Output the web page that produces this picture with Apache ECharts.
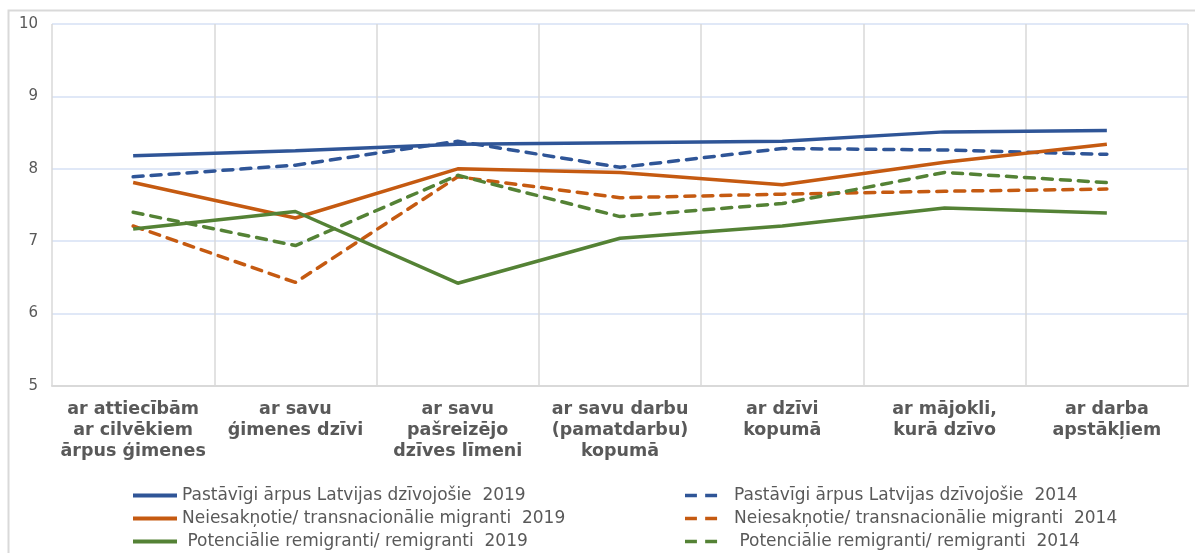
<!DOCTYPE html>
<html>
<head>
<meta charset="utf-8">
<script src="https://cdn.jsdelivr.net/npm/echarts@6/dist/echarts.min.js"></script>
<style>
html,body{margin:0;padding:0;background:#fff;}
#chart{width:1195px;height:553px;}
</style>
</head>
<body>
<div id="chart"></div>
<script>
const categories = [
  "ar attiecībām\nar cilvēkiem\nārpus ģimenes",
  "ar savu\nģimenes dzīvi",
  "ar savu\npašreizējo\ndzīves līmeni",
  "ar savu darbu\n(pamatdarbu)\nkopumā",
  "ar dzīvi\nkopumā",
  "ar mājokli,\nkurā dzīvo",
  "ar darba\napstākļiem"
];
const yTicks = { min: 5, max: 10, interval: 1 };

const namePastavigi2019 = "Pastāvīgi ārpus Latvijas dzīvojošie  2019";
const nameNeiesakn2019 = "Neiesakņotie/ transnacionālie migranti  2019";
const namePotenc2019 = " Potenciālie remigranti/ remigranti  2019";
const namePastavigi2014 = "Pastāvīgi ārpus Latvijas dzīvojošie  2014";
const nameNeiesakn2014 = "Neiesakņotie/ transnacionālie migranti  2014";
const namePotenc2014 = " Potenciālie remigranti/ remigranti  2014";

const pastavigi2019 = [8.18, 8.25, 8.34, 8.36, 8.38, 8.51, 8.53];
const neiesakn2019 = [7.81, 7.32, 8.00, 7.95, 7.78, 8.09, 8.34];
const potenc2019 = [7.17, 7.41, 6.42, 7.04, 7.21, 7.46, 7.39];
const pastavigi2014 = [7.89, 8.05, 8.38, 8.02, 8.28, 8.26, 8.20];
const neiesakn2014 = [7.21, 6.43, 7.89, 7.60, 7.65, 7.69, 7.72];
const potenc2014 = [7.40, 6.94, 7.91, 7.34, 7.52, 7.95, 7.81];

const BLUE = '#2F5597', ORANGE = '#C55A11', GREEN = '#548235';
const FONT = 'DejaVu Sans';
const DASH_ICON = 'path://M0,0h13v4h-13z M22,0h13v4h-13z M48,0h0.01v0.01h-0.01z';

function mk(name, data, color, dashed) {
  return {
    name: name, type: 'line', data: data, symbol: 'none', smooth: false,
    lineStyle: { color: color, width: 3.5, type: dashed ? [10, 8] : 'solid', cap: dashed ? 'round' : 'butt' },
    itemStyle: { color: color },
    emphasis: { disabled: true },
    animation: false
  };
}

const chart = echarts.init(document.getElementById('chart'), null, { renderer: 'canvas' });
const legendText = { color: '#595959', fontSize: 17, fontFamily: FONT, lineHeight: 17 };
chart.setOption({
  animation: false,
  backgroundColor: '#fff',
  graphic: [{
    type: 'rect', shape: { x: 8.5, y: 10.5, width: 1220, height: 600 },
    style: { fill: 'none', stroke: '#D9D9D9', lineWidth: 2 }, silent: true, z: -1
  }],
  grid: { left: 52, right: 7, top: 24, bottom: 167, containLabel: false },
  legend: [
    {
      data: [namePastavigi2019, nameNeiesakn2019, namePotenc2019].map(n => ({ name: n, icon: 'rect' })),
      orient: 'vertical', left: 133, top: 487, padding: 0, height: 80,
      itemWidth: 44, itemHeight: 4, itemGap: 6,
      textStyle: legendText, selectedMode: false
    },
    {
      data: [namePastavigi2014, nameNeiesakn2014, namePotenc2014].map(n => ({ name: n, icon: DASH_ICON })),
      orient: 'vertical', left: 685, top: 487, padding: 0, height: 80,
      itemWidth: 44, itemHeight: 4, itemGap: 6,
      textStyle: legendText, selectedMode: false
    }
  ],
  xAxis: {
    type: 'category', data: categories, boundaryGap: true,
    axisLine: { show: true, lineStyle: { color: '#D9D9D9', width: 2 } },
    axisTick: { show: false },
    splitLine: { show: true, lineStyle: { color: '#D9D9D9', width: 1.5 } },
    axisLabel: {
      interval: 0, margin: 13, color: '#595959', fontSize: 17.5, fontWeight: 'bold',
      fontFamily: FONT, lineHeight: 21, align: 'center'
    }
  },
  yAxis: {
    type: 'value', min: yTicks.min, max: yTicks.max, interval: yTicks.interval,
    axisLine: { show: false }, axisTick: { show: false },
    splitLine: { show: true, lineStyle: { color: '#D6E0F4', width: 1.5 } },
    axisLabel: { color: '#595959', fontSize: 15, fontFamily: FONT, margin: 14 }
  },
  series: [
    mk(namePastavigi2019, pastavigi2019, BLUE, false),
    mk(namePastavigi2014, pastavigi2014, BLUE, true),
    mk(nameNeiesakn2019, neiesakn2019, ORANGE, false),
    mk(nameNeiesakn2014, neiesakn2014, ORANGE, true),
    mk(namePotenc2019, potenc2019, GREEN, false),
    mk(namePotenc2014, potenc2014, GREEN, true)
  ]
});
</script>
</body>
</html>
